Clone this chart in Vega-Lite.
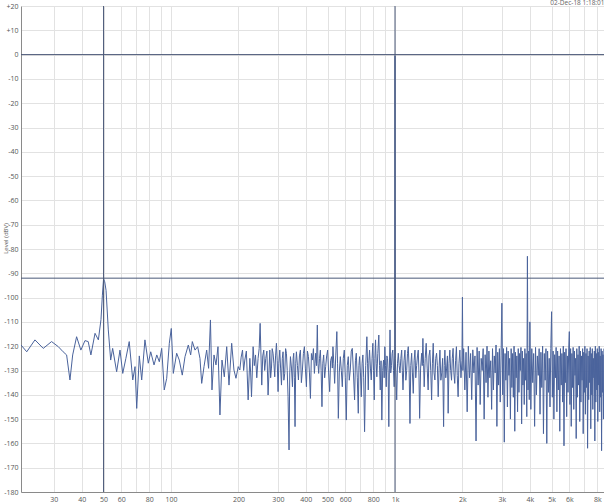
{
  "$schema": "https://vega.github.io/schema/vega-lite/v6.json",
  "width": 583,
  "height": 486,
  "autosize": {"type": "none"},
  "padding": {"left": 21, "top": 6, "right": 0, "bottom": 11},
  "background": "white",
  "title": {"text": "02-Dec-18 1:18:01", "anchor": "end", "fontSize": 6.5, "fontWeight": "normal", "color": "#666666", "offset": 0, "dy": 9, "baseline": "alphabetic", "font": "Open Sans"},
  "config": {"view": {"stroke": null}, "font": "Open Sans"},
  "resolve": {"axis": {"x": "independent", "y": "independent"}},
  "layer": [
    {
      "data": {"values": [
        {"f":21.4,"v":-119.5},{"f":22.7,"v":-122.3},{"f":24.7,"v":-117.4},{"f":26.9,"v":-120.9},{"f":29.3,"v":-118.1},{"f":31.4,"v":-120.2},{"f":33.0,"v":-122.3},{"f":34.2,"v":-123.6},{"f":35.4,"v":-133.9},{"f":36.4,"v":-123.6},{"f":37.9,"v":-116.1},{"f":39.6,"v":-121.6},{"f":41.3,"v":-117.7},{"f":42.7,"v":-118.1},{"f":43.9,"v":-123.6},{"f":45.8,"v":-114.7},{"f":47.4,"v":-117.4},{"f":48.7,"v":-109},{"f":49.4,"v":-99},{"f":50,"v":-92.3},{"f":50.6,"v":-93.5},{"f":51.3,"v":-97},{"f":52.5,"v":-113.3},{"f":53.8,"v":-125.7},{"f":54.9,"v":-120.9},{"f":57.2,"v":-130.5},{"f":59.2,"v":-121.6},{"f":60.9,"v":-131.2},{"f":62.9,"v":-125},{"f":65.1,"v":-118.1},{"f":67.5,"v":-133.9},{"f":69.1,"v":-128.4},{"f":70.3,"v":-145.6},{"f":72.2,"v":-124},
        {"f":74.0,"v":-133.9},{"f":76.5,"v":-117.4},{"f":79.2,"v":-127},{"f":81.2,"v":-122.3},{"f":84.0,"v":-127.7},{"f":86.4,"v":-123.6},{"f":88.7,"v":-126.4},{"f":90.9,"v":-120.9},{"f":93.3,"v":-138},{"f":95.7,"v":-133.2},{"f":98.3,"v":-118.8},{"f":100.3,"v":-112.7},{"f":102.4,"v":-131.2},{"f":106.0,"v":-122.9},{"f":108.9,"v":-125.7},{"f":112.3,"v":-131.9},{"f":115.5,"v":-124.3},{"f":119.5,"v":-119.5},{"f":122.4,"v":-123.6},{"f":124.5,"v":-118.1},{"f":128.0,"v":-121.6},{"f":131.5,"v":-120.2},{"f":134.7,"v":-125},{"f":137.1,"v":-135.3},{"f":140.4,"v":-128.4},{"f":144.3,"v":-121.6},{"f":147.2,"v":-129.1},{"f":150,"v":-109.2},{"f":152.4,"v":-138},{"f":155.6,"v":-123.6},{"f":158.8,"v":-127.7},{"f":162.1,"v":-120.2},{"f":165.4,"v":-148.3},{"f":168.9,"v":-125.7},{"f":173.0,"v":-132.6},{"f":177.3,"v":-120.2},{"f":181.5,"v":-136},{"f":186.6,"v":-118.8},{"f":191.0,"v":-129.8},{"f":195.0,"v":-133.2},{"f":199.6,"v":-128.4},
        {"f":202.9,"v":-129.8},{"f":205.7,"v":-124.5},{"f":208.6,"v":-121.6},{"f":211,"v":-130},{"f":213.6,"v":-125.7},{"f":217,"v":-122},{"f":221.0,"v":-142.1},{"f":224.9,"v":-125},{"f":226.8,"v":-131},{"f":228.8,"v":-140.8},{"f":232.6,"v":-120.2},{"f":235.5,"v":-128},{"f":238.4,"v":-123.6},{"f":241.5,"v":-133},{"f":244.8,"v":-125},{"f":247.5,"v":-121},{"f":250,"v":-110.6},{"f":254.2,"v":-136},{"f":256.8,"v":-124},{"f":259.5,"v":-121.6},{"f":262,"v":-130},{"f":264.9,"v":-125},{"f":268,"v":-122},{"f":271.3,"v":-140.1},{"f":276.1,"v":-121.6},{"f":278.5,"v":-133},{"f":280.9,"v":-129},{"f":283,"v":-121},{"f":285.5,"v":-122.9},{"f":288,"v":-127},{"f":290.5,"v":-132.6},{"f":293,"v":-124},{"f":295.6,"v":-118.8},{"f":298,"v":-126},{"f":300.6,"v":-138.7},{"f":303,"v":-127},{"f":305.9,"v":-121.6},{"f":308.5,"v":-129},{"f":311.3,"v":-136},{"f":314,"v":-125},{"f":316.4,"v":-122.3},{"f":319,"v":-134},{"f":322.0,"v":-131.2},{"f":324.8,"v":-121},{"f":327.6,"v":-122.9},{"f":330.3,"v":-130},{"f":333.1,"v":-140.8},{"f":336.5,"v":-162.7},{"f":339,"v":-131},{"f":341.4,"v":-124.3},{"f":345,"v":-129},{"f":348.5,"v":-136.7},{"f":351,"v":-125},{"f":353.1,"v":-122.9},{"f":355.5,"v":-133},{"f":357.9,"v":-153.1},{"f":360.5,"v":-127},{"f":363.0,"v":-122.3},{"f":366.8,"v":-128},{"f":370.6,"v":-133.9},{"f":374.4,"v":-124},{"f":378.2,"v":-121.6},{"f":382,"v":-135},{"f":386.1,"v":-129.8},{"f":390,"v":-123},{"f":394.1,"v":-120.2},{"f":398,"v":-129},{"f":402.3,"v":-136.7},{"f":406.5,"v":-122},{"f":410.7,"v":-124.3},{"f":415,"v":-131},{"f":419.2,"v":-141.5},{"f":423.5,"v":-123},{"f":427.9,"v":-125.7},{"f":432.3,"v":-121},{"f":436.7,"v":-131.2},{"f":439.6,"v":-127},{"f":442.6,"v":-122.9},{"f":446.3,"v":-128},{"f":450,"v":-111.3},{"f":453,"v":-127},{"f":456.3,"v":-131.2},{"f":460.3,"v":-125},{"f":464.3,"v":-121.6},{"f":468,"v":-130},{"f":472.0,"v":-144.9},{"f":476,"v":-127},{"f":480.3,"v":-123.6},{"f":485.3,"v":-133},{"f":490.3,"v":-128.4},{"f":495.3,"v":-124},{"f":500.4,"v":-121.6},{"f":505.6,"v":-131},{"f":510.8,"v":-138.7},{"f":516,"v":-126},{"f":521.4,"v":-124.3},{"f":525,"v":-129},{"f":528.4,"v":-120.2},{"f":533,"v":-127},{"f":537.7,"v":-135.3},{"f":543.8,"v":-124},{"f":550,"v":-114},{"f":554,"v":-127},{"f":558.5,"v":-149.7},{"f":564,"v":-131},{"f":570.0,"v":-124.3},{"f":575.9,"v":-130},{"f":581.8,"v":-136.7},{"f":587.8,"v":-125},{"f":593.8,"v":-121.6},{"f":600,"v":-133},{"f":606.1,"v":-150.4},{"f":612.3,"v":-128},{"f":618.6,"v":-124.3},{"f":625,"v":-134},{"f":631.4,"v":-129.8},{"f":638,"v":-122},{"f":644.6,"v":-120.9},{"f":652.3,"v":-131},{"f":660.0,"v":-142.1},{"f":665.8,"v":-126},{"f":671.7,"v":-122.9},{"f":678.6,"v":-133},{"f":685.6,"v":-147.6},{"f":690.2,"v":-128},
        {"f":694.9,"v":-124.3},{"f":701,"v":-131},{"f":707.1,"v":-140.8},{"f":713,"v":-127},{"f":718.8,"v":-123.6},{"f":725,"v":-133},{"f":731.4,"v":-155.2},{"f":740,"v":-128},{"f":748.9,"v":-116.1},{"f":754.3,"v":-127},{"f":759.7,"v":-138},{"f":764.8,"v":-126},{"f":769.9,"v":-121.6},{"f":776.6,"v":-129},{"f":783.4,"v":-133.9},{"f":789.9,"v":-125},{"f":796.4,"v":-118.8},{"f":802,"v":-130},{"f":807.9,"v":-142.1},{"f":813.3,"v":-125},{"f":818.7,"v":-117.4},{"f":824.2,"v":-127},{"f":829.7,"v":-132.6},{"f":838,"v":-123},{"f":846.8,"v":-115.4},{"f":853,"v":-128},{"f":859.2,"v":-138},{"f":866.3,"v":-126},{"f":873.4,"v":-150.4},{"f":881,"v":-130},{"f":888.8,"v":-125.7},{"f":894.7,"v":-133},{"f":900.7,"v":-120.2},{"f":907,"v":-128},{"f":913.7,"v":-136.7},{"f":920,"v":-124},{"f":926.0,"v":-125},{"f":932,"v":-131},{"f":938.4,"v":-153.1},{"f":944,"v":-129},{"f":950,"v":-113.3},{"f":957,"v":-131},{"f":964.7,"v":-128},{"f":971,"v":-123},{"f":977.7,"v":-121.6},{"f":984.7,"v":-130},{"f":991.8,"v":-136.7},{"f":998,"v":-124},{"f":1000,"v":-0.5},{"f":1002,"v":-125},
        {"f":1009,"v":-131},{"f":1017.6,"v":-142.1},{"f":1026,"v":-127},{"f":1034.4,"v":-122.9},{"f":1043.5,"v":-128},{"f":1052.6,"v":-131},{"f":1062,"v":-125},{"f":1071.1,"v":-121.6},{"f":1078,"v":-130},{"f":1085.5,"v":-138},{"f":1097,"v":-126},{"f":1108.0,"v":-121.6},{"f":1118,"v":-134},{"f":1127.5,"v":-130},{"f":1137,"v":-123},{"f":1146.1,"v":-120.2},{"f":1156,"v":-129},{"f":1166.3,"v":-151.8},{"f":1176,"v":-128},{"f":1186.6,"v":-122.9},{"f":1196,"v":-131},{"f":1206.6,"v":-139.4},{"f":1217,"v":-126},{"f":1227.7,"v":-121.6},{"f":1238,"v":-133},{"f":1249,"v":-128},{"f":1260,"v":-124},{"f":1270,"v":-121.6},{"f":1279,"v":-131},{"f":1288,"v":-149.7},{"f":1301,"v":-129},{"f":1315,"v":-122.9},{"f":1323,"v":-128},{"f":1332,"v":-116.8},{"f":1341,"v":-127},{"f":1350,"v":-136.7},{"f":1364,"v":-125},{"f":1378,"v":-118.8},{"f":1392,"v":-129},{"f":1406,"v":-138},{"f":1418,"v":-124},{"f":1431,"v":-121.6},{"f":1444,"v":-130},{"f":1457,"v":-142.1},{"f":1469,"v":-127},{"f":1481,"v":-118.8},{"f":1494,"v":-131},{"f":1507,"v":-133.9},{"f":1520,"v":-125},{"f":1533,"v":-122.9},{"f":1546,"v":-128},{"f":1559,"v":-140.8},{"f":1573,"v":-129},{"f":1587,"v":-121.6},{"f":1602,"v":-134},{"f":1617,"v":-131},{"f":1632,"v":-125},{"f":1648,"v":-153.1},{"f":1659,"v":-128},{"f":1670,"v":-121.6},{"f":1685,"v":-133},{"f":1700,"v":-129},{"f":1714,"v":-124},{"f":1727,"v":-147.6},{"f":1742,"v":-127},{"f":1757,"v":-121.6},{"f":1772,"v":-130},{"f":1788,"v":-134},{"f":1802,"v":-125},{"f":1817,"v":-120.9},{"f":1832,"v":-131},{"f":1848,"v":-135.3},{"f":1864,"v":-126},{"f":1880,"v":-120.2},{"f":1896,"v":-132},{"f":1913,"v":-140.8},{"f":1930,"v":-127},{"f":1948,"v":-121.6},{"f":1970,"v":-133},{"f":1990,"v":-126},{"f":2000,"v":-99.8},{"f":2010,"v":-130},
        {"f":2025,"v":-121},{"f":2050,"v":-138},{"f":2075,"v":-122.5},{"f":2100,"v":-147},{"f":2125,"v":-120},{"f":2150,"v":-133},{"f":2175,"v":-123},{"f":2200,"v":-142},{"f":2225,"v":-121.5},{"f":2250,"v":-131},{"f":2275,"v":-124},{"f":2300,"v":-159},{"f":2325,"v":-120.5},{"f":2350,"v":-136},{"f":2375,"v":-122},{"f":2400,"v":-144},{"f":2425,"v":-125},{"f":2450,"v":-130},{"f":2475,"v":-121},{"f":2500,"v":-150},{"f":2525,"v":-123.5},{"f":2550,"v":-135},{"f":2575,"v":-120},{"f":2600,"v":-141},{"f":2625,"v":-122},{"f":2650,"v":-133},{"f":2675,"v":-126},{"f":2700,"v":-146},{"f":2725,"v":-121},{"f":2750,"v":-138},{"f":2775,"v":-124},{"f":2800,"v":-131},{"f":2825,"v":-119.5},{"f":2850,"v":-153},{"f":2875,"v":-122.5},{"f":2900,"v":-136},{"f":2925,"v":-121},{"f":2950,"v":-143},{"f":2975,"v":-124},{"f":3000,"v":-102.3},{"f":3025,"v":-140},{"f":3050,"v":-121},{"f":3075,"v":-159.5},{"f":3100,"v":-123},{"f":3125,"v":-134},{"f":3150,"v":-120.5},{"f":3175,"v":-145},{"f":3200,"v":-122},{"f":3225,"v":-132},{"f":3250,"v":-125},{"f":3275,"v":-150},{"f":3300,"v":-121},{"f":3325,"v":-137},{"f":3350,"v":-123},{"f":3375,"v":-141},{"f":3400,"v":-120},{"f":3425,"v":-155},{"f":3450,"v":-122.5},{"f":3475,"v":-133},{"f":3500,"v":-124},{"f":3525,"v":-147},{"f":3550,"v":-121},{"f":3575,"v":-139},{"f":3600,"v":-123},{"f":3625,"v":-130},{"f":3650,"v":-120.5},{"f":3675,"v":-152},{"f":3700,"v":-122},{"f":3725,"v":-136},{"f":3750,"v":-125},{"f":3775,"v":-144},{"f":3800,"v":-121},{"f":3825,"v":-134},{"f":3850,"v":-123},{"f":3875,"v":-149},{"f":3900,"v":-83},{"f":3925,"v":-138},{"f":3950,"v":-122},{"f":3975,"v":-142},{"f":4000,"v":-110},
        {"f":4040,"v":-146},{"f":4080,"v":-121},{"f":4120,"v":-135},{"f":4160,"v":-123},{"f":4200,"v":-153},{"f":4240,"v":-120.5},{"f":4280,"v":-140},{"f":4320,"v":-124},{"f":4360,"v":-132},{"f":4400,"v":-121},{"f":4440,"v":-148},{"f":4480,"v":-122.5},{"f":4520,"v":-137},{"f":4560,"v":-120},{"f":4600,"v":-156},{"f":4640,"v":-123},{"f":4680,"v":-134},{"f":4720,"v":-121},{"f":4760,"v":-160},{"f":4800,"v":-122},{"f":4840,"v":-139},{"f":4880,"v":-125},{"f":4920,"v":-145},{"f":4960,"v":-121},{"f":5000,"v":-105.8},{"f":5040,"v":-141},{"f":5080,"v":-122},{"f":5120,"v":-150},{"f":5160,"v":-123.5},{"f":5200,"v":-133},{"f":5240,"v":-120.5},{"f":5280,"v":-147},{"f":5320,"v":-122},{"f":5360,"v":-138},{"f":5400,"v":-124},{"f":5440,"v":-155},{"f":5480,"v":-121},{"f":5520,"v":-136},{"f":5560,"v":-123},{"f":5600,"v":-143},{"f":5640,"v":-120},{"f":5680,"v":-161},{"f":5720,"v":-122.5},{"f":5760,"v":-135},{"f":5800,"v":-121},{"f":5840,"v":-149},{"f":5880,"v":-124},{"f":5920,"v":-139},{"f":5960,"v":-122},{"f":6000,"v":-114},{"f":6040,"v":-144},{"f":6080,"v":-121},{"f":6120,"v":-153},{"f":6160,"v":-123},{"f":6200,"v":-137},{"f":6240,"v":-120.5},{"f":6280,"v":-146},{"f":6320,"v":-122},{"f":6360,"v":-132},{"f":6400,"v":-125},{"f":6440,"v":-158},{"f":6480,"v":-121},{"f":6520,"v":-141},{"f":6560,"v":-123.5},{"f":6600,"v":-136},{"f":6640,"v":-120},{"f":6680,"v":-151},{"f":6720,"v":-122},{"f":6760,"v":-143},{"f":6800,"v":-124},{"f":6840,"v":-134},{"f":6880,"v":-121},{"f":6920,"v":-156},{"f":6960,"v":-122.5},{"f":7000,"v":-139},{"f":7040,"v":-120},{"f":7080,"v":-148},{"f":7120,"v":-123},{"f":7160,"v":-137},{"f":7200,"v":-121},{"f":7240,"v":-162},{"f":7280,"v":-124},{"f":7320,"v":-142},{"f":7360,"v":-122},{"f":7400,"v":-135},{"f":7440,"v":-120.5},{"f":7480,"v":-154},{"f":7520,"v":-123},{"f":7560,"v":-140},{"f":7600,"v":-121},{"f":7640,"v":-146},{"f":7680,"v":-125},{"f":7720,"v":-133},{"f":7760,"v":-122},{"f":7800,"v":-159},{"f":7840,"v":-120},{"f":7880,"v":-143},{"f":7920,"v":-123},{"f":7960,"v":-138},{"f":8000,"v":-121},{"f":8040,"v":-151},{"f":8080,"v":-122.5},{"f":8120,"v":-136},{"f":8160,"v":-120},{"f":8200,"v":-147},{"f":8240,"v":-124},{"f":8280,"v":-141},{"f":8320,"v":-121},{"f":8360,"v":-163},{"f":8400,"v":-122},{"f":8440,"v":-139},{"f":8480,"v":-123.5},{"f":8520,"v":-150},{"f":8560,"v":-121}
      ]},
      "mark": {"type": "line", "color": "#4a639c", "strokeWidth": 1, "clip": true},
      "encoding": {
        "x": {"field": "f", "type": "quantitative",
          "scale": {"type": "log", "domain": [21.4, 8570], "nice": false},
          "axis": {"values": [30,40,50,60,70,80,90,100,200,300,400,500,600,700,800,900,1000,2000,3000,4000,5000,6000,7000,8000],
            "labelExpr": "indexof([70,90,700,900,7000], datum.value) >= 0 ? '' : (datum.value >= 1000 ? (datum.value/1000) + 'k' : '' + datum.value)",
            "grid": true, "gridColor": "#e2e2e2", "gridWidth": 1, "ticks": false, "domainColor": "#8a8a8a",
            "labelFontSize": 7, "labelColor": "#555555", "labelPadding": 3, "labelFlush": false, "labelOverlap": false,
            "title": "Frequency (Hz)", "titleFontSize": 6, "titleFontWeight": "normal", "titleColor": "#555555", "titleBaseline": "top", "titleY": 10}},
        "y": {"field": "v", "type": "quantitative",
          "scale": {"domain": [-180, 20], "nice": false, "zero": false},
          "axis": {"values": [-180,-170,-160,-150,-140,-130,-120,-110,-100,-90,-80,-70,-60,-50,-40,-30,-20,-10,0,10,20],
            "labelExpr": "datum.value > 0 ? '+' + datum.value : '' + datum.value",
            "grid": true, "gridColor": "#e2e2e2", "gridWidth": 1, "ticks": false, "domainColor": "#8a8a8a",
            "labelFontSize": 7, "labelColor": "#555555", "labelPadding": 3, "labelFlush": false, "labelOverlap": false,
            "title": "Level (dBV)", "titleFontSize": 6, "titleFontWeight": "normal", "titleColor": "#555555", "titleX": -13, "titleY": 232}}
      }
    },
    {
      "data": {"values": [{"mx": 50}, {"mx": 1000}]},
      "mark": {"type": "rule", "color": "#4a5878", "strokeWidth": 1},
      "encoding": {"x": {"field": "mx", "type": "quantitative", "axis": null}}
    },
    {
      "data": {"values": [{"my": 0}, {"my": -92}]},
      "mark": {"type": "rule", "color": "#4a5878", "strokeWidth": 1},
      "encoding": {"y": {"field": "my", "type": "quantitative", "axis": null}}
    }
  ]
}
